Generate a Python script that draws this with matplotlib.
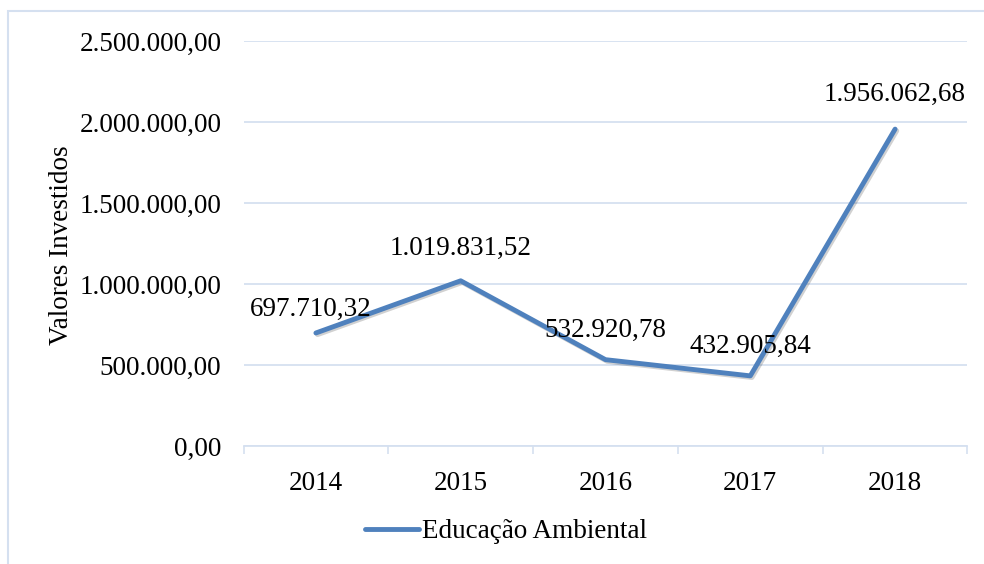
import matplotlib
matplotlib.use("Agg")
import matplotlib.pyplot as plt
from matplotlib.patches import Rectangle
from matplotlib.lines import Line2D
from matplotlib.ticker import FixedLocator
import matplotlib.patheffects as pe

years = ["2014", "2015", "2016", "2017", "2018"]
values = [697710.32, 1019831.52, 532920.78, 432905.84, 1956062.68]
value_labels = ["697.710,32", "1.019.831,52", "532.920,78", "432.905,84", "1.956.062,68"]
y_ticks = [0, 500000, 1000000, 1500000, 2000000, 2500000]
y_tick_labels = ["0,00", "500.000,00", "1.000.000,00", "1.500.000,00", "2.000.000,00", "2.500.000,00"]
series_name = "Educação Ambiental"
y_title = "Valores Investidos"

plt.rcParams['font.family'] = ['Liberation Serif', 'DejaVu Serif']
FS = 19.5
LINE_C = "#4f81bd"
GRID_C = "#d5e0f0"

fig = plt.figure(figsize=(9.84, 5.64), dpi=100)
W, H = 984, 564
fig.patches.append(Rectangle((8 / W, -0.1), 1.2, 1 - 11 / H + 0.1, transform=fig.transFigure,
                             fill=False, edgecolor=GRID_C, linewidth=1.5))

ax = fig.add_axes([243.5 / W, (H - 446) / H, 724 / W, 405 / H])
x = list(range(len(years)))
shadow = [pe.SimpleLineShadow(offset=(1.2, -1.2), shadow_color='black', alpha=0.18), pe.Normal()]
ax.plot(x, values, color=LINE_C, linewidth=3.5, solid_capstyle='round', solid_joinstyle='round',
        path_effects=shadow)

ax.set_xlim(-0.5, len(years) - 0.5)
ax.set_ylim(0, 2500000)
ax.set_yticks(y_ticks)
ax.set_yticklabels(y_tick_labels, fontsize=FS)
ax.set_xticks(x)
ax.set_xticklabels(years, fontsize=FS)
ax.xaxis.set_minor_locator(FixedLocator([i - 0.5 for i in range(len(years) + 1)]))
ax.tick_params(axis='x', which='major', length=0, pad=18)
ax.tick_params(axis='x', which='minor', length=6, width=1.2, color=GRID_C, direction='out')
ax.tick_params(axis='y', length=0, pad=16)
ax.grid(axis='y', color=GRID_C, linewidth=1.3)
ax.set_axisbelow(True)
for s in ['top', 'right', 'left']:
    ax.spines[s].set_visible(False)
ax.spines['bottom'].set_color(GRID_C)
ax.spines['bottom'].set_linewidth(1.3)

ax.set_ylabel(y_title, fontsize=FS)
ax.yaxis.set_label_coords(-0.234, 0.495)

offsets = [(-4, 17), (0, 23), (0, 21), (0, 21), (0, 25)]
for xi, v, lab, off in zip(x, values, value_labels, offsets):
    ax.annotate(lab, (xi, v), xytext=off, textcoords='offset points',
                ha='center', va='center', fontsize=FS)

handle = Line2D([0], [0], color=LINE_C, linewidth=3.5, solid_capstyle='round')
fig.legend([handle], [series_name], loc='center', bbox_to_anchor=(506 / W, 1 - 532 / H),
           frameon=False, fontsize=FS, handlelength=2.0, handletextpad=0.1)

fig.savefig("out.png", dpi=100)
